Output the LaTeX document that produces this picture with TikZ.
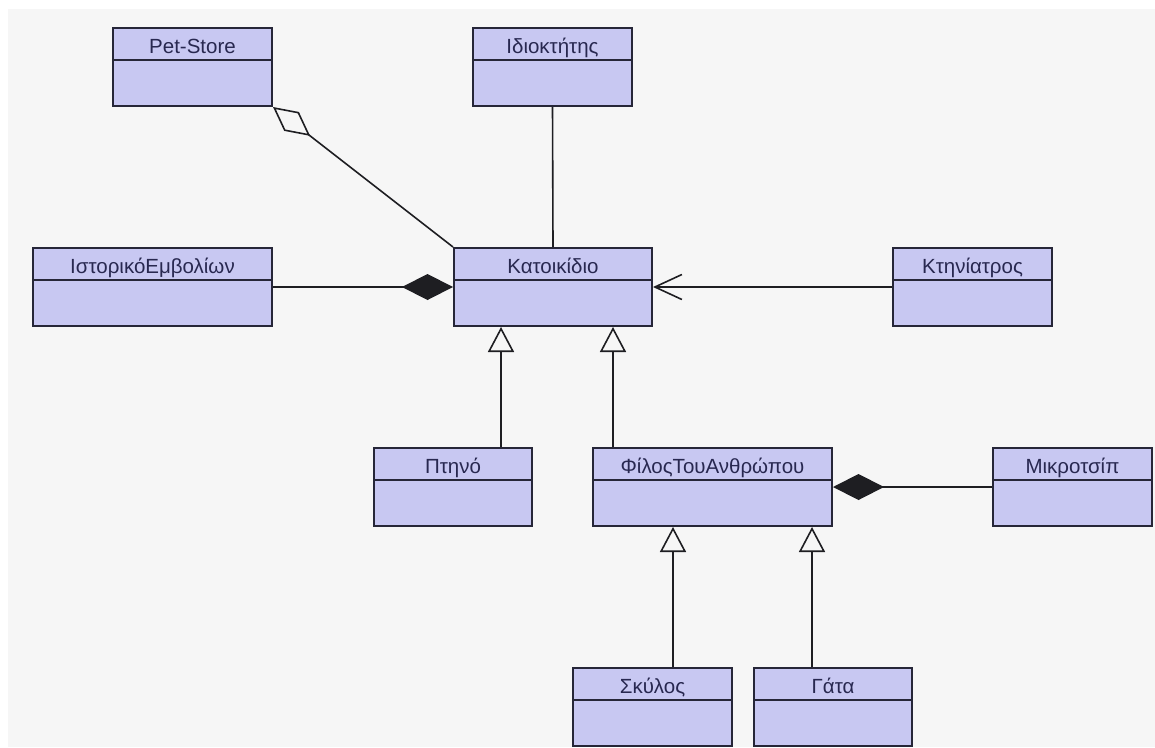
\documentclass[tikz,border=0pt]{standalone}
\usepackage{fontspec}
\setmainfont{Liberation Sans}
\usetikzlibrary{arrows.meta,calc}

\definecolor{classfill}{RGB}{200,200,242}
\definecolor{classedge}{RGB}{38,38,56}
\definecolor{classtext}{RGB}{40,40,80}
\definecolor{canvas}{RGB}{246,246,246}
\definecolor{wire}{RGB}{30,30,34}

\tikzset{
  classbox/.style={draw=classedge, fill=classfill, line width=2pt, rectangle,
    inner sep=0pt, minimum height=78pt, anchor=north west},
  classtitle/.style={text=classtext, font=\fontsize{20.5}{24}\selectfont,
    anchor=base, inner sep=0pt},
  classsep/.style={draw=classedge, line width=1.6pt},
  assoc/.style={draw=wire, line width=1.6pt},
  aggregation/.style={assoc, {Diamond[open, length=47pt, width=24pt]}-},
  composition/.style={assoc, {Diamond[length=51pt, width=26pt]}-},
  navigable/.style={assoc, {Straight Barb[length=27pt, width=25pt]}-},
  generalization/.style={assoc, -{Triangle[open, length=25pt, width=26pt]}},
}

% class box: name, left, top, width, title
\newcommand\umlclass[5]{%
  \node[classbox, minimum width=#4pt] (#1) at (#2,#3) {};
  \draw[classsep] ([yshift=-33pt]#1.north west) -- ([yshift=-33pt]#1.north east);
  \node[classtitle] (#1-title) at ([yshift=-26pt]#1.north) {#5};
}

\begin{document}
\begin{tikzpicture}[x=1pt, y=-1pt]
  \useasboundingbox (0,0) rectangle (1155,747);
  \fill[white] (0,0) rectangle (1155,747);
  \fill[canvas] (8,9) rectangle (1155,747);

  \umlclass{pet}{112}{27}{159}{Pet-Store}
  \umlclass{owner}{472}{27}{159}{Ιδιοκτήτης}
  \umlclass{hist}{32}{247}{239}{ΙστορικόΕμβολίων}
  \umlclass{kat}{453}{247}{198}{Κατοικίδιο}
  \umlclass{vet}{892}{247}{159}{Κτηνίατρος}
  \umlclass{bird}{373}{447}{158}{Πτηνό}
  \umlclass{friend}{592}{447}{239}{ΦίλοςΤουΑνθρώπου}
  \umlclass{chip}{992}{447}{159}{Μικροτσίπ}
  \umlclass{dog}{572}{667}{159}{Σκύλος}
  \umlclass{cat}{753}{667}{158}{Γάτα}

  % attachment points for the inheritance lines
  \coordinate (k1) at ([xshift=48pt]kat.south west);
  \coordinate (k2) at ([xshift=160pt]kat.south west);
  \coordinate (f1) at ([xshift=81pt]friend.south west);
  \coordinate (f2) at ([xshift=220pt]friend.south west);

  % associations
  \draw[aggregation] (pet.south east) -- (kat.north west);
  \draw[assoc] (owner.south) -- (kat.north);
  \draw[composition] (kat.west) -- (hist.east);
  \draw[navigable] (kat.east) -- (vet.west);
  \draw[composition] (friend.east) -- (chip.west);

  % generalizations
  \draw[generalization] (bird.north -| k1) -- (k1);
  \draw[generalization] (friend.north -| k2) -- (k2);
  \draw[generalization] (dog.north -| f1) -- (f1);
  \draw[generalization] (cat.north -| f2) -- (f2);
\end{tikzpicture}
\end{document}
